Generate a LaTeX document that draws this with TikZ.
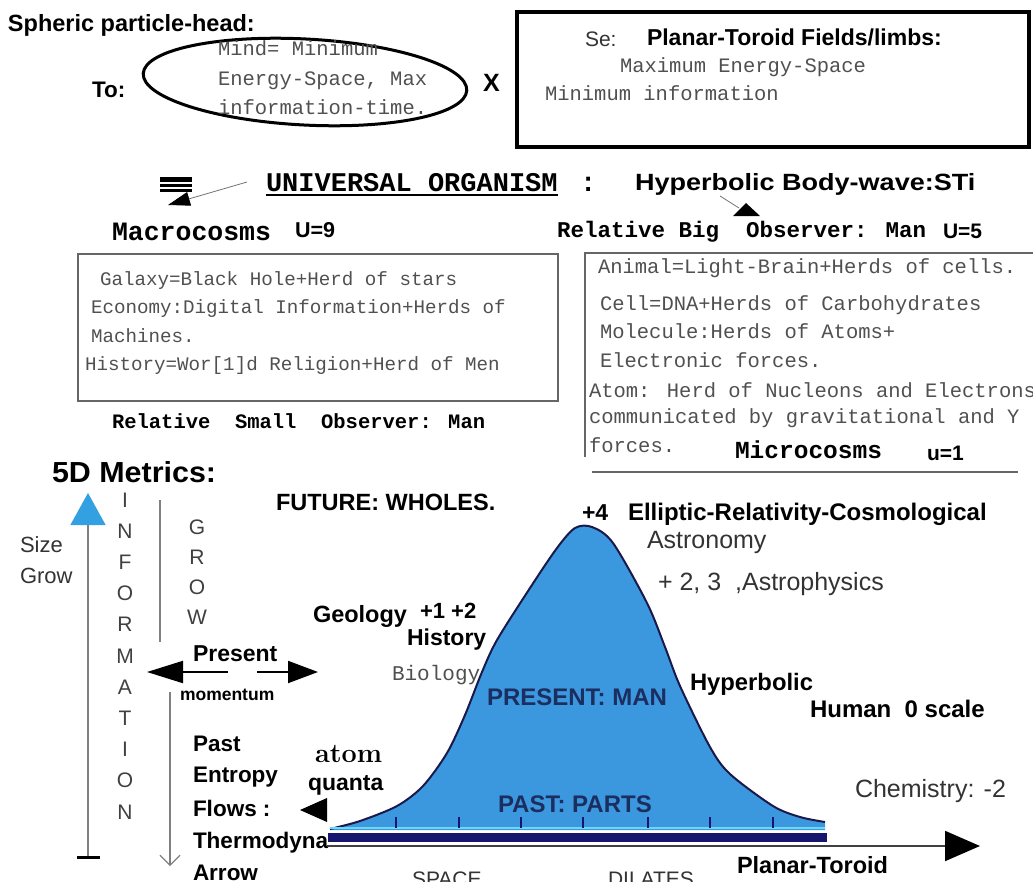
\documentclass[tikz,border=0pt]{standalone}
\usepackage{fontspec}
\usetikzlibrary{arrows.meta,shapes.geometric}
\newfontfamily\sansf{Liberation Sans}
\newfontfamily\monof{Liberation Mono}
\newcommand\fsz[1]{\fontsize{#1}{#1}\selectfont}
\definecolor{bellblue}{RGB}{60,152,222}
\definecolor{navyline}{RGB}{25,25,75}
\definecolor{navyband}{RGB}{22,22,110}
\definecolor{cyanline}{RGB}{110,215,245}
\definecolor{navytext}{RGB}{28,45,95}
\definecolor{boxtext}{RGB}{80,80,80}
\definecolor{arrowblue}{RGB}{50,160,225}
\begin{document}
\begin{tikzpicture}[x=1pt,y=-1pt,
  t/.style={inner sep=0pt, outer sep=0pt, anchor=base west},
  sb/.style={t, font=\sansf\bfseries\fsz{#1}},
  sr/.style={t, font=\sansf\fsz{#1}, text=black!80},
  mb/.style={t, font=\monof\bfseries\fsz{#1}},
  mg/.style={t, font=\monof\fsz{#1}, text=boxtext},
  lt/.style={t, anchor=base, font=\sansf\fsz{21}, text=black!75},
  thinline/.style={black!50, line width=1.2pt},
]
\useasboundingbox (0,0) rectangle (1033,881);

% ---- top left
\node[sb=23.5] (sph) at (8,31) {Spheric particle-head:};
\node[sb=22.5] (to) at (92,97) {To:};
\node[draw, ellipse, line width=3pt, minimum width=324pt, minimum height=86pt, rotate=-3, inner sep=0pt] (mind) at (305,82) {};
\node[mg=20.5] (mind1) at (218,55) {Mind= Minimum};
\node[mg=20.5] (mind2) at (218,85) {Energy-Space, Max};
\node[mg=20.5] (mind3) at (218,114) {information-time.};
\node[sb=25] (xx) at (483,91) {X};

% ---- top right box
\node[draw, line width=4pt, minimum width=512pt, minimum height=135pt, anchor=north west, inner sep=0pt] (sebox) at (515,10) {};
\node[sr=21] (se) at (585,46) {Se:};
\node[sb=23] (ptf) at (647,45) {Planar-Toroid Fields/limbs:};
\node[mg=20.5] (maxes) at (620,72) {Maximum Energy-Space};
\node[mg=20.5] (mininf) at (545,100) {Minimum information};

% ---- universal organism line
\node[mb=27] (uo) at (266,191) {UNIVERSAL ORGANISM};
\draw[line width=1.5pt] ([yshift=-4pt]uo.base west) -- ([yshift=-4pt]uo.base east);
\node[mb=27] (uocolon) at (580,191) {:};
\node[sb=23.5] (hbw) at (635,190) {\scalebox{1.15}[1]{Hyperbolic Body-wave:STi}};
\fill (160,177) rectangle (192,181.5);
\fill (160,183.5) rectangle (192,186.5);
\fill (160,188.5) rectangle (192,191.5);
\coordinate (uotail) at (247,182);
\coordinate (eqtip) at (168,205);
\draw[black!55, line width=0.8pt, -{Triangle[length=22pt,width=14pt,black]}] (uotail) -- (eqtip);
\coordinate (hbtail) at (720,196);
\coordinate (hbend) at (739,208);
\coordinate (hbtip) at (746,203);
\draw[black!55, line width=0.8pt] (hbtail) -- (hbend);
\fill (hbtip) -- ++(-13,13) -- ++(27,0) -- cycle;

% ---- macrocosms
\node[mb=26.5] (macro) at (112,240) {Macrocosms};
\node[sb=21.5] (u9) at (295,237) {U=9};
\node[draw=black!60, line width=1.5pt, minimum width=480pt, minimum height=147pt, anchor=north west, inner sep=0pt] (macbox) at (77,253) {};
\node[mg=19.2] (gal) at (100,285) {Galaxy=Black Hole+Herd of stars};
\node[mg=19.2] (eco) at (91,313) {Economy:Digital Information+Herds of};
\node[mg=19.2] (mach) at (91,342) {Machines.};
\node[mg=19.2] (hist) at (85,370) {History=Wor[1]d Religion+Herd of Men};
\node[mb=20.5] (relsmall) at (112,428) {Relative\ \ Small\ \ Observer: Man};

% ---- microcosms
\node[mb=22.5] (relbig) at (557,237) {Relative Big\ \ Observer: Man};
\node[sb=21] (u5) at (943,238) {U=5};
\draw[black!60, line width=1.5pt] (585,457) -- (585,253) -- (1036,253);
\draw[black!60, line width=2pt] (592,472) -- (1018,472);
\node[mg=20.5] (anim) at (598,273) {Animal=Light-Brain+Herds of cells.};
\node[mg=20.5] (cell) at (600,310) {Cell=DNA+Herds of Carbohydrates};
\node[mg=20.5] (mole) at (600,338) {Molecule:Herds of Atoms+};
\node[mg=20.5] (elec) at (600,367) {Electronic forces.};
\node[mg=20.5] (atm) at (589,397) {Atom: Herd of Nucleons and Electrons};
\node[mg=20.5] (comm) at (589,423) {communicated by gravitational and Y};
\node[mg=20.5] (forc) at (589,452) {forces.};
\node[mb=24.5] (micro) at (735,458) {Microcosms};
\node[sb=21] (u1) at (927,460) {u=1};

% ---- left metrics
\node[sb=29] (metrics) at (52,482) {\scalebox{1.05}[1]{5D Metrics:}};
\node[sr=22] (size) at (20,552) {Size};
\node[sr=22] (grow) at (20,583) {Grow};
\coordinate (sgbot) at (88,857);
\coordinate (sgtop) at (88,493);
\draw[thinline, -{Triangle[length=32pt,width=35pt,arrowblue]}] (sgbot) -- (sgtop);
\draw[line width=3pt] ([xshift=-11pt]sgbot) -- ([xshift=12pt]sgbot);
\foreach \l [count=\i from 0] in {I,N,F,O,R,M,A,T,I,O,N}
  \node[lt] (inf\i) at (125,507+31.2*\i) {\l};
\foreach \l [count=\i from 0] in {G,R,O,W}
  \node[lt] (gr\i) at (197,534+30.3*\i) {\l};
\coordinate (gl1) at (160,500);
\coordinate (gl2) at (160,642);
\draw[thinline] (gl1) -- (gl2);
\node[sb=23] (present) at (193,661) {Present};
\coordinate (pla) at (228,672);
\coordinate (plb) at (147,672);
\coordinate (pra) at (257,672);
\coordinate (prb) at (318,672);
\draw[line width=2pt, -{Triangle[length=36pt,width=22pt]}] (pla) -- (plb);
\draw[line width=2pt, -{Triangle[length=30pt,width=22pt]}] (pra) -- (prb);
\node[sb=17.5] (momentum) at (180,700) {momentum};
\coordinate (pdt) at (170,692);
\coordinate (pdb) at (170,866);
\draw[thinline, -{Straight Barb[length=10pt,width=20pt]}] (pdt) -- (pdb);
\node[sb=22.5] (past) at (193,751) {Past};
\node[sb=22.5] (entropy) at (193,782) {Entropy};
\node[sb=22.5] (flows) at (193,816) {Flows :};
\node[sb=22.5] (thermo) at (193,848) {Thermodyna};
\node[sb=22.5] (arrowt) at (193,880) {Arrow};

% ---- bell curve
\fill[bellblue] plot[smooth, tension=0.5] coordinates {(330,829) (360,821) (397,806) (423,786) (447,753) (465,715) (482,672) (497,640) (530,588) (557,548) (575,528) (592,527) (613,543) (647,603) (665,647) (680,686) (710,747) (730,774) (773,806) (800,817) (825,822)} -- (825,830) -- (330,830) -- cycle;
\draw[navyline, line width=2pt] plot[smooth, tension=0.5] coordinates {(330,829) (360,821) (397,806) (423,786) (447,753) (465,715) (482,672) (497,640) (530,588) (557,548) (575,528) (592,527) (613,543) (647,603) (665,647) (680,686) (710,747) (730,774) (773,806) (800,817) (825,822)};
\draw[cyanline, line width=1.5pt] (330,828) -- (825,828);
\fill[navyband] (328,833) rectangle (827,842);
\foreach \x in {396,459,521,583,648,710,773}
  \draw[navyband, line width=1.5pt] (\x,817) -- (\x,828);
\coordinate (axl) at (327,846);
\coordinate (axr) at (980,846);
\draw[black!75, line width=2pt, -{Triangle[length=35pt,width=30pt,black]}] (axl) -- (axr);
\coordinate (qtip) at (300,810);
\fill (qtip) -- ++(27,-12) -- ++(0,24) -- cycle;

% ---- curve labels
\node[sb=23.5] (future) at (276,510) {FUTURE: WHOLES.};
\node[sb=23] (plus4) at (582,520) {+4};
\node[sb=24] (elliptic) at (628,520) {Elliptic-Relativity-Cosmological};
\node[sr=25] (astro) at (647,548) {Astronomy};
\node[sr=25] (astroph) at (658,590) {+ 2, 3\ \ ,Astrophysics};
\node[sb=23.5] (geology) at (313,622) {Geology};
\node[sb=22] (pm12) at (420,618) {+1 +2};
\node[sb=23] (history) at (407,645) {History};
\node[mg=21] (biology) at (392,680) {Biology};
\node[sb=24, text=navytext] (presman) at (487,705) {PRESENT: MAN};
\node[sb=23.8] (hyper) at (690,690) {Hyperbolic};
\node[sb=24] (human) at (810,717) {Human\ \ 0 scale};
\node[sr=25] (chem) at (855,797) {Chemistry: -2};
\node[t, font=\bfseries\fsz{27}] (atom) at (315,762) {atom};
\node[sb=23] (quanta) at (308,790) {quanta};
\node[sb=24, text=navytext] (pastparts) at (498,812) {PAST: PARTS};
\node[sr=21] (space) at (412,886) {SPACE};
\node[sr=21] (dilates) at (608,886) {DILATES};
\node[sb=23.5] (planar) at (737,873) {Planar-Toroid};
\end{tikzpicture}
\end{document}
